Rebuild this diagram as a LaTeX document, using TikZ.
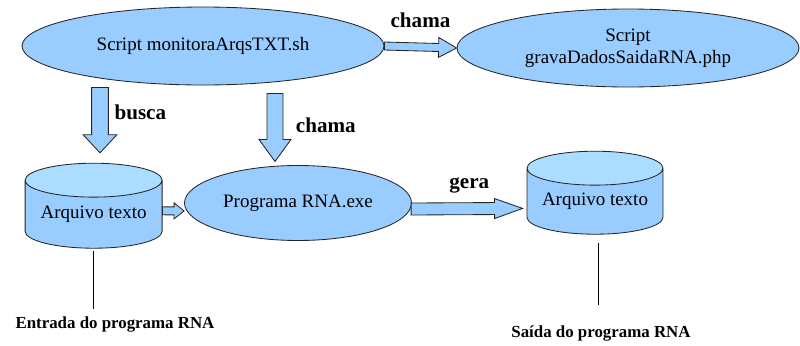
\documentclass[tikz,border=0pt]{standalone}
\usepackage{fontspec}
\setmainfont{LiberationSerif}[
	Extension=.ttf,
	UprightFont=*-Regular,
	BoldFont=*-Bold,
	ItalicFont=*-Italic,
	BoldItalicFont=*-BoldItalic]
\usetikzlibrary{calc}
\usetikzlibrary{shapes.geometric}

\definecolor{boxblue}{HTML}{99CCFF}
\definecolor{topblue}{HTML}{AADDFF}
\definecolor{edge}{HTML}{262626}

\tikzset{
	arrshaft/.store in=\arrshaft,
	arrhead/.store in=\arrhead,
	arrlen/.store in=\arrlen,
	arrshaft=0.1cm, arrhead=0.25cm, arrlen=0.4cm,
	% fat outlined arrow between two points
	blockarrow/.style={
		draw=edge, fill=boxblue, line width=0.6pt, line join=miter,
		to path={
			let \p1=(\tikztostart), \p2=(\tikztotarget),
			    \n1={atan2(\y2-\y1,\x2-\x1)} in
			($(\p1)+(\n1+90:\arrshaft)$)
			-- ($(\p2)+(\n1:-\arrlen)+(\n1+90:\arrshaft)$)
			-- ($(\p2)+(\n1:-\arrlen)+(\n1+90:\arrhead)$)
			-- (\p2)
			-- ($(\p2)+(\n1:-\arrlen)+(\n1-90:\arrhead)$)
			-- ($(\p2)+(\n1:-\arrlen)+(\n1-90:\arrshaft)$)
			-- ($(\p1)+(\n1-90:\arrshaft)$) -- cycle
		},
	},
	proc/.style={
		ellipse, draw=edge, fill=boxblue, line width=0.6pt,
		inner sep=0pt, align=center,
		font=\fontsize{13.5}{15.5}\selectfont,
	},
	filebox/.style={
		cylinder, shape border rotate=90, aspect=0.32,
		draw=edge, line width=0.6pt,
		cylinder uses custom fill,
		cylinder body fill=boxblue, cylinder end fill=topblue,
		inner sep=0pt,
		font=\fontsize{13.5}{15.5}\selectfont,
	},
	lbl/.style={font=\bfseries\fontsize{15}{17}\selectfont},
	foot/.style={font=\bfseries\fontsize{12}{14}\selectfont},
}

\begin{document}
\begin{tikzpicture}
	\useasboundingbox (0,0) rectangle (20,-8.625);

	\node[proc, minimum width=9.05cm, minimum height=1.95cm] (monitora) at (5.075,-1.15)
		{Script monitoraArqsTXT.sh};
	\node[proc, minimum width=8.55cm, minimum height=1.95cm] (grava) at (15.7,-1.2)
		{Script\\gravaDadosSaidaRNA.php};
	\node[proc, minimum width=5.675cm, minimum height=1.875cm] (prog) at (7.45,-5.075)
		{Programa RNA.exe};
	\node[filebox, minimum width=3.425cm, minimum height=2.125cm] (entra) at (2.34,-5.36)
		{Arquivo texto};
	\node[filebox, minimum width=3.4cm, minimum height=2.075cm] (sai) at (14.875,-5.035)
		{Arquivo texto};

	\node[foot] (entrada) at (2.875,-8.125) {Entrada do programa RNA};
	\node[foot] (saida) at (15.025,-8.325) {Saída do programa RNA};

	% arrows
	\draw[blockarrow, arrshaft=0.1cm, arrhead=0.25cm, arrlen=0.45cm]
		(monitora.east) to (grava.west);
	\draw[blockarrow, arrshaft=0.21cm, arrhead=0.42cm, arrlen=0.45cm]
		($(monitora.south -| entra.north)+(0.16,-0.05)$) to ($(entra.north)+(0.16,0.25)$);
	\draw[blockarrow, arrshaft=0.2cm, arrhead=0.4cm, arrlen=0.55cm]
		($(prog.north |- monitora.south)+(-0.575,-0.2)$) to ($(prog.north)+(-0.575,0.09)$);
	\draw[blockarrow, arrshaft=0.1cm, arrhead=0.2cm, arrlen=0.25cm]
		($(entra.east)+(0,0.09)$) to ($(prog.west)+(0,-0.2)$);
	\draw[blockarrow, arrshaft=0.15cm, arrhead=0.25cm, arrlen=0.7cm]
		($(prog.east)+(-0.02,-0.15)$) to ($(sai.west)+(-0.1,-0.175)$);

	% arrow labels
	\draw[draw=none] (monitora.east) -- (grava.west) node[midway,above=0.35cm,lbl] {chama};
	\draw[draw=none] (monitora.south -| entra.north) -- (entra.north)
		node[pos=0.35,right=0.4cm,lbl] {busca};
	\draw[draw=none] ($(prog.north |- monitora.south)+(-0.575,0)$) -- ($(prog.north)+(-0.575,0)$)
		node[midway,right=0.4cm,lbl] {chama};
	\draw[draw=none] (prog.east) -- (sai.west) node[midway,above=0.09cm,lbl] {gera};

	% leader lines to the captions
	\draw[thin] ($(entra.south)+(0,-0.05)$) -- ($(entra.south |- entrada.north)+(0,0.08)$);
	\draw[thin] ($(sai.south)+(0.08,-0.22)$) -- ($(sai.south |- saida.north)+(0.08,0.38)$);
\end{tikzpicture}
\end{document}
